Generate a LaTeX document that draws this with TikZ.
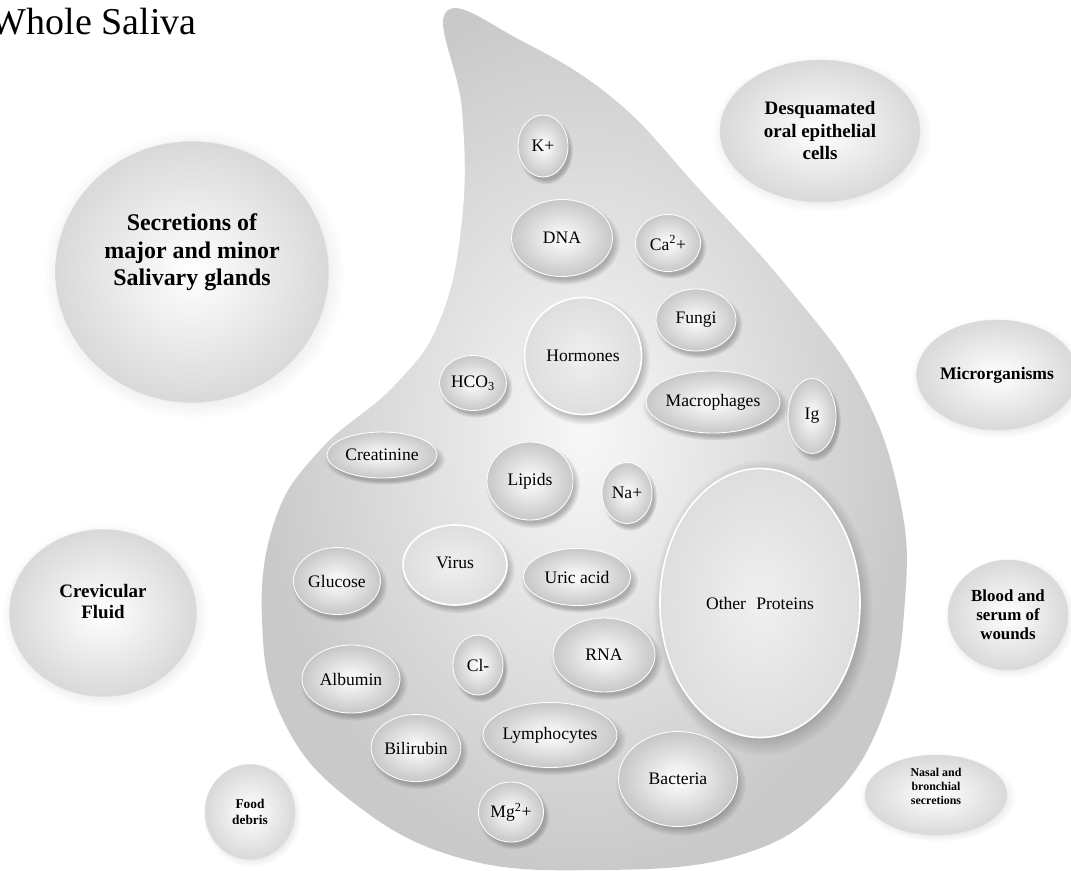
\documentclass[tikz,border=0pt]{standalone}
\usepackage{fontspec}
\setmainfont{Liberation Serif}
\usepackage{tikz}
\usetikzlibrary{shapes.geometric,shadows}

\tikzset{
	bsize/.style 2 args={minimum width=#1*0.25mm, minimum height=#2*0.25mm},
	bubble/.style={ellipse, inner sep=0pt, shade, inner color=white, outer color=black!22,
		draw=white, line width=0.6pt,
		circular drop shadow={shadow xshift=0.6mm, shadow yshift=-1mm, opacity=0.45, fill=black!60},
		font=\fontsize{12.5}{14}\selectfont},
	flatbubble/.style={bubble, shade, inner color=black!6, outer color=black!13, draw=white, line width=1.2pt},
	outside/.style={ellipse, inner sep=0pt, align=center, shade, inner color=white, outer color=black!15,
		draw=black!12, line width=0.4pt,
		circular drop shadow={shadow xshift=0.4mm, shadow yshift=-0.6mm, opacity=0.18, fill=black!40},
		font=\bfseries},
}

\begin{document}
\begin{tikzpicture}[x=0.25mm, y=-0.25mm]
		%%%%% START %%%%%
		\useasboundingbox[fill=white] (0, 0) rectangle (1071, 871);
		
		\node[anchor=base west, font=\fontsize{27}{30}\selectfont] (title) at (-14, 35) {Whole Saliva};
		
		% the drop
		\shade[inner color=black!3, outer color=black!21] plot[smooth cycle, tension=0.7] coordinates {
			(446, 12) (520, 40) (615, 100) (700, 190) (790, 290) (862, 390) (900, 500)
			(905, 600) (885, 710) (830, 800) (740, 855) (600, 870) (460, 858) (350, 800)
			(283, 720) (262, 620) (275, 520) (320, 450) (395, 385) (440, 320) (462, 220) (462, 110)};
		
		% sources round the drop
		\node[outside, bsize={273}{261}, font=\bfseries\fontsize{17}{19.5}\selectfont] (glands) at (192, 272) {Secretions of\\ major and minor\\ Salivary glands\\[12pt]};
		\node[outside, bsize={187}{167}, font=\bfseries\fontsize{13.5}{15}\selectfont] (crevicular) at (103, 613) {Crevicular\\ Fluid\\[2pt]};
		\node[outside, bsize={90}{95}, font=\bfseries\fontsize{9.5}{11}\selectfont] (food) at (250, 812) {Food\\ debris};
		\node[outside, bsize={200}{142}, font=\bfseries\fontsize{13.5}{16}\selectfont] (desquamated) at (820, 131) {Desquamated\\ oral epithelial\\ cells};
		\node[outside, bsize={135}{110}, font=\bfseries\fontsize{12.5}{14}\selectfont] (microorg) at (997, 375) {Microrganisms};
		\node[outside, bsize={120}{110}, font=\bfseries\fontsize{12}{13.5}\selectfont] (blood) at (1008, 615) {Blood and\\ serum of\\ wounds};
		\node[outside, bsize={142}{80}, font=\bfseries\fontsize{8.5}{10}\selectfont] (nasal) at (936, 795) {Nasal and\\ bronchial\\ secretions\\[2pt]};
		
		% components inside the drop
		\node[bubble, bsize={50}{62}] (kplus) at (543, 146) {K+};
		\node[bubble, bsize={101}{77}] (dna) at (562, 238) {DNA};
		\node[bubble, bsize={65}{57}] (calcium) at (668, 243) {Ca\textsuperscript{2}+};
		\node[bubble, bsize={80}{62}] (fungi) at (696, 320) {Fungi};
		\node[flatbubble, bsize={117}{117}] (hormones) at (583, 356) {Hormones};
		\node[bubble, bsize={67}{55}] (bicarb) at (473, 383) {HCO\textsubscript{3}};
		\node[bubble, bsize={125}{62}] (macro) at (713, 402) {Macrophages};
		\node[bubble, bsize={48}{75}] (ig) at (812, 416) {Ig};
		\node[bubble, bsize={110}{46}] (creatinine) at (382, 455) {Creatinine};
		\node[bubble, bsize={86}{78}] (lipids) at (530, 481) {Lipids};
		\node[bubble, bsize={50}{61}] (sodium) at (627, 493) {Na+};
		\node[flatbubble, bsize={200}{269}] (proteins) at (760, 603) {Other\,\, Proteins};
		\node[flatbubble, bsize={104}{80}] (virus) at (455, 565) {\raisebox{3pt}{Virus}};
		\node[bubble, bsize={87}{67}] (glucose) at (337, 581) {Glucose};
		\node[bubble, bsize={107}{57}] (uric) at (577, 577) {Uric acid};
		\node[bubble, bsize={98}{68}] (albumin) at (351, 679) {Albumin};
		\node[bubble, bsize={50}{60}] (chloride) at (478, 665) {Cl-};
		\node[bubble, bsize={102}{74}] (rna) at (604, 655) {RNA};
		\node[bubble, bsize={85}{67}] (bilirubin) at (416, 748) {Bilirubin};
		\node[bubble, bsize={114}{65}] (lympho) at (550, 735) {Lymphocytes};
		\node[bubble, bsize={65}{60}] (magnesium) at (511, 812) {Mg\textsuperscript{2}+};
		\node[bubble, bsize={119}{95}] (bacteria) at (678, 779) {Bacteria};
		
		%%%%% END %%%%%
\end{tikzpicture}
\end{document}
